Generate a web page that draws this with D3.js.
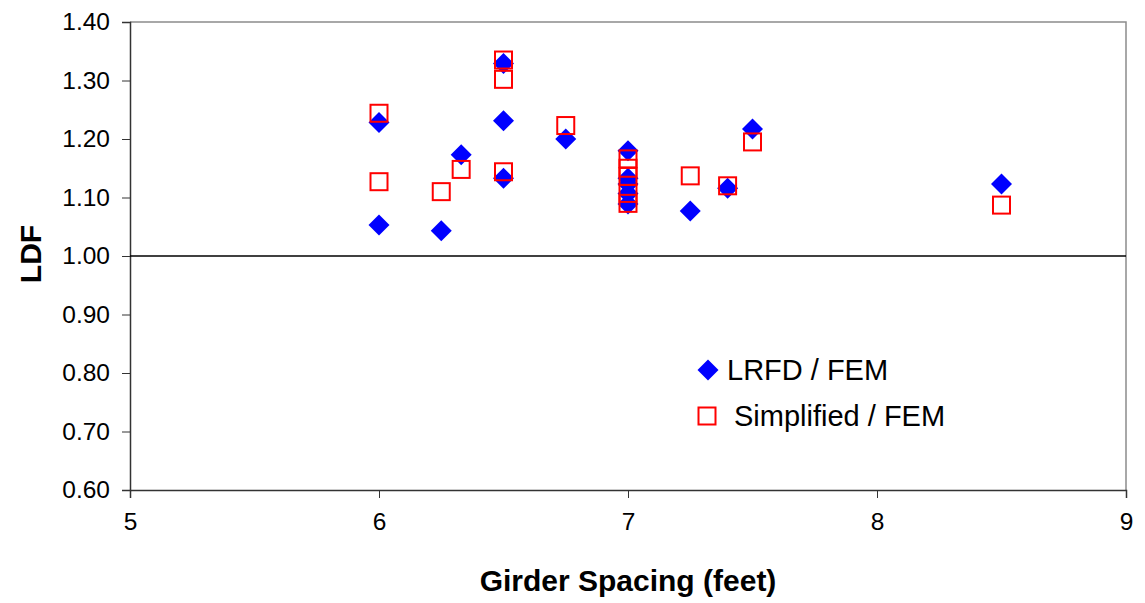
<!DOCTYPE html>
<html>
<head>
<meta charset="utf-8">
<script src="https://cdn.jsdelivr.net/npm/d3@7"></script>
<style>
  html, body { margin: 0; padding: 0; background: #fff; }
  svg { display: block; font-family: "Liberation Sans", Arial, sans-serif; }
</style>
</head>
<body>
<svg id="chart" width="1145" height="603"></svg>
<script>
// Girder spacing (feet) for each bridge case
const spacing = [6, 6, 6.25, 6.33, 6.5, 6.5, 6.5, 6.75, 7, 7, 7, 7, 7, 7.25, 7.4, 7.5, 8.5];
// LRFD / FEM ratios
const lrfdFem = [1.228, 1.053, 1.043, 1.173, 1.329, 1.231, 1.133, 1.200, 1.180, 1.133, 1.123, 1.107, 1.089, 1.077, 1.116, 1.217, 1.123];
// Simplified / FEM ratios
const simplifiedFem = [1.244, 1.127, 1.110, 1.148, 1.335, 1.302, 1.144, 1.223, 1.166, 1.150, 1.136, 1.107, 1.090, 1.137, 1.120, 1.195, 1.087];

const xTicks = [5, 6, 7, 8, 9];
const yTicks = [0.60, 0.70, 0.80, 0.90, 1.00, 1.10, 1.20, 1.30, 1.40];
const seriesNames = ["LRFD / FEM", "Simplified / FEM"];

const svg = d3.select("#chart");
const plot = { left: 130, top: 22, right: 1126, bottom: 490 };

const x = d3.scaleLinear().domain([5, 9]).range([plot.left, plot.right]);
const y = d3.scaleLinear().domain([0.6, 1.4]).range([plot.bottom, plot.top]);

// plot area frame (top and right edges)
svg.append("path")
  .attr("d", `M${plot.left},${plot.top}H${plot.right}V${plot.bottom}`)
  .attr("fill", "none").attr("stroke", "#8c8c8c").attr("stroke-width", 1.5);

// x axis
const xAxis = svg.append("g")
  .attr("transform", `translate(0,${plot.bottom})`)
  .call(d3.axisBottom(x).tickValues(xTicks).tickFormat(d3.format("d")).tickSize(8).tickPadding(15));
xAxis.select(".domain").attr("stroke", "#333").attr("stroke-width", 1.5);
xAxis.selectAll(".tick line").attr("stroke", "#333").attr("stroke-width", 1);
xAxis.selectAll(".tick text")
  .attr("font-size", 24.5).attr("fill", "#000")
  .attr("font-family", "Liberation Sans, Arial, sans-serif");

// y axis
const yAxis = svg.append("g")
  .attr("transform", `translate(${plot.left},0)`)
  .call(d3.axisLeft(y).tickValues(yTicks).tickFormat(d3.format(".2f")).tickSize(8).tickPadding(12));
yAxis.select(".domain").attr("stroke", "#333").attr("stroke-width", 1.5);
yAxis.selectAll(".tick line").attr("stroke", "#333").attr("stroke-width", 1);
yAxis.selectAll(".tick text")
  .attr("font-size", 24.5).attr("fill", "#000")
  .attr("font-family", "Liberation Sans, Arial, sans-serif");

// reference line at LDF = 1.00
svg.append("line")
  .attr("x1", plot.left).attr("x2", plot.right)
  .attr("y1", y(1.0)).attr("y2", y(1.0))
  .attr("stroke", "#000").attr("stroke-width", 1.5);

// axis titles
svg.append("text")
  .attr("x", (plot.left + plot.right) / 2).attr("y", 591)
  .attr("text-anchor", "middle")
  .attr("font-size", 30).attr("font-weight", "bold")
  .text("Girder Spacing (feet)");

svg.append("text")
  .attr("transform", `translate(41,${(plot.top + plot.bottom) / 2 - 2}) rotate(-90)`)
  .attr("text-anchor", "middle")
  .attr("font-size", 30).attr("font-weight", "bold")
  .text("LDF");

// marker shapes
const diamond = s => `M0,${-s}L${s},0L0,${s}L${-s},0Z`;
const squareHalf = 8.5;

// LRFD / FEM diamonds
svg.append("g").selectAll("path")
  .data(spacing.map((s, i) => [s, lrfdFem[i]]))
  .join("path")
  .attr("transform", d => `translate(${x(d[0])},${y(d[1])})`)
  .attr("d", diamond(10.5))
  .attr("fill", "#0000ff");

// Simplified / FEM open squares (drawn above the diamonds)
svg.append("g").selectAll("rect")
  .data(spacing.map((s, i) => [s, simplifiedFem[i]]))
  .join("rect")
  .attr("x", d => x(d[0]) - squareHalf)
  .attr("y", d => y(d[1]) - squareHalf)
  .attr("width", squareHalf * 2).attr("height", squareHalf * 2)
  .attr("fill", "none").attr("stroke", "#ff0000").attr("stroke-width", 2);

// legend
const legend = svg.append("g");
legend.append("path")
  .attr("transform", "translate(708,370)")
  .attr("d", diamond(10.5)).attr("fill", "#0000ff");
legend.append("text")
  .attr("x", 727).attr("y", 380)
  .attr("font-size", 29)
  .text(seriesNames[0]);
legend.append("rect")
  .attr("x", 707 - squareHalf).attr("y", 416 - squareHalf)
  .attr("width", squareHalf * 2).attr("height", squareHalf * 2)
  .attr("fill", "none").attr("stroke", "#ff0000").attr("stroke-width", 2);
legend.append("text")
  .attr("x", 734).attr("y", 426)
  .attr("font-size", 29)
  .text(seriesNames[1]);
</script>
</body>
</html>
